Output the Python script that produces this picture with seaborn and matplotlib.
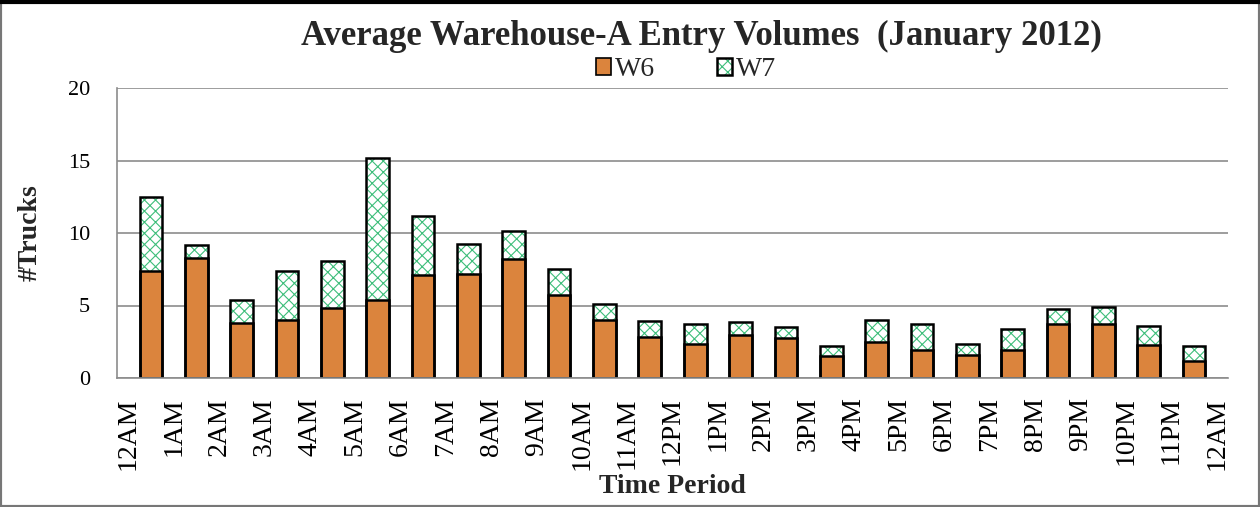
import numpy as np
import pandas as pd
import matplotlib
matplotlib.use("Agg")
import matplotlib.pyplot as plt
from matplotlib.patches import Patch, Rectangle
from matplotlib.lines import Line2D
from matplotlib.ticker import FixedLocator
import seaborn as sns

# Hour boundaries shown on the x axis (bars sit between consecutive labels)
hour_labels = ["12AM", "1AM", "2AM", "3AM", "4AM", "5AM", "6AM", "7AM", "8AM",
               "9AM", "10AM", "11AM", "12PM", "1PM", "2PM", "3PM", "4PM", "5PM",
               "6PM", "7PM", "8PM", "9PM", "10PM", "11PM", "12AM"]

# Average trucks per hour for each entry gate
w6 = [7.4, 8.3, 3.8, 4.0, 4.8, 5.35, 7.1, 7.2, 8.2, 5.7, 4.0, 2.8,
      2.35, 3.0, 2.75, 1.55, 2.5, 1.9, 1.6, 1.95, 3.75, 3.75, 2.25, 1.2]
w7 = [5.1, 0.85, 1.55, 3.4, 3.3, 9.8, 4.1, 2.05, 1.95, 1.8, 1.1, 1.15,
      1.4, 0.85, 0.75, 0.65, 1.5, 1.8, 0.75, 1.4, 1.0, 1.15, 1.35, 1.0]

ORANGE = "#DB843D"
HATCH_GREEN = "#3DBE7A"
GRID_GRAY = "#8C8C8C"

sns.set_theme(style="white")
plt.rcParams["font.family"] = ["Liberation Serif", "DejaVu Serif"]
plt.rcParams["hatch.linewidth"] = 0.8

df = pd.DataFrame({"period": hour_labels[:-1], "W6": w6, "W7": w7})
# label slots are the even positions, bar slots the odd ones in between
df["slot"] = 2 * np.arange(len(df)) + 1
df["total"] = df["W6"] + df["W7"]

fig = plt.figure(figsize=(12.6, 5.07), dpi=100)
ax = fig.add_axes([117 / 1260, 1 - 378 / 507, (1228 - 117) / 1260, (378 - 88) / 507])

common = dict(data=df, x="slot", native_scale=True, width=0.5,
              errorbar=None, saturation=1, ax=ax)

# W7 stacked segment: green cross-hatch on white
sns.barplot(y="total", color="white", edgecolor=HATCH_GREEN, linewidth=0,
            hatch="xxx", zorder=2, **common)
# W6 base segment
sns.barplot(y="W6", color=ORANGE, edgecolor="black", linewidth=1.8,
            zorder=3, **common)
# black outline around the full stack
sns.barplot(y="total", color="white", edgecolor="black", linewidth=1.8,
            zorder=4, **common)
for bar in ax.containers[-1]:
    bar.set_facecolor("none")

ax.set_xlim(-0.5, 2 * len(df) + 0.5)
ax.set_ylim(0, 20)
ax.set_yticks(np.arange(0, 21, 5))
ax.set_xticks(np.arange(0, 2 * len(df) + 1, 2))
ax.set_xticklabels(hour_labels, rotation=90)
ax.xaxis.set_minor_locator(FixedLocator(np.arange(-0.5, 2 * len(df) + 1, 1)))

ax.tick_params(axis="x", which="major", length=0, pad=14, labelsize=20,
               colors="black")
ax.tick_params(axis="x", which="minor", length=5, width=1.1, color=GRID_GRAY,
               direction="out")
ax.tick_params(axis="y", which="major", length=6.5, width=1.1, color=GRID_GRAY,
               direction="out", pad=13, labelsize=16, labelcolor="black")

ax.yaxis.grid(True, color=GRID_GRAY, linewidth=1.2)
ax.set_axisbelow(True)
for side in ("top", "right"):
    ax.spines[side].set_visible(False)
for side in ("left", "bottom"):
    ax.spines[side].set_color(GRID_GRAY)
    ax.spines[side].set_linewidth(1.2)
    ax.spines[side].set_zorder(5)

ax.set_xlabel("Time Period", fontsize=20, fontweight="bold", labelpad=3)
ax.set_ylabel("#Trucks", fontsize=20, fontweight="bold", labelpad=18)

fig.text(701 / 1260, 1 - 36 / 507,
         "Average Warehouse-A Entry Volumes  (January 2012)",
         ha="center", va="center", fontsize=25, fontweight="bold")

h_w6 = Patch(facecolor=ORANGE, edgecolor="black", linewidth=1.2)
h_w7 = (Patch(facecolor="white", edgecolor=HATCH_GREEN, linewidth=0, hatch="xxx"),
        Patch(facecolor="none", edgecolor="black", linewidth=1.8))
fig.legend([h_w6, h_w7], ["W6", "W7"], ncol=2, loc="center",
           bbox_to_anchor=(686 / 1260, 1 - 70 / 507), frameon=False,
           fontsize=20, handlelength=0.55, handleheight=0.55,
           handletextpad=0.15, columnspacing=2.2, borderpad=0)

# chart frame
fig.patches.append(Rectangle((0, 0), 1, 1, transform=fig.transFigure,
                             fill=False, edgecolor="#777777", linewidth=3))
fig.lines.append(Line2D([0, 1], [0.997, 0.997], transform=fig.transFigure,
                        color="black", linewidth=3))

fig.savefig("out.png", dpi=100)
